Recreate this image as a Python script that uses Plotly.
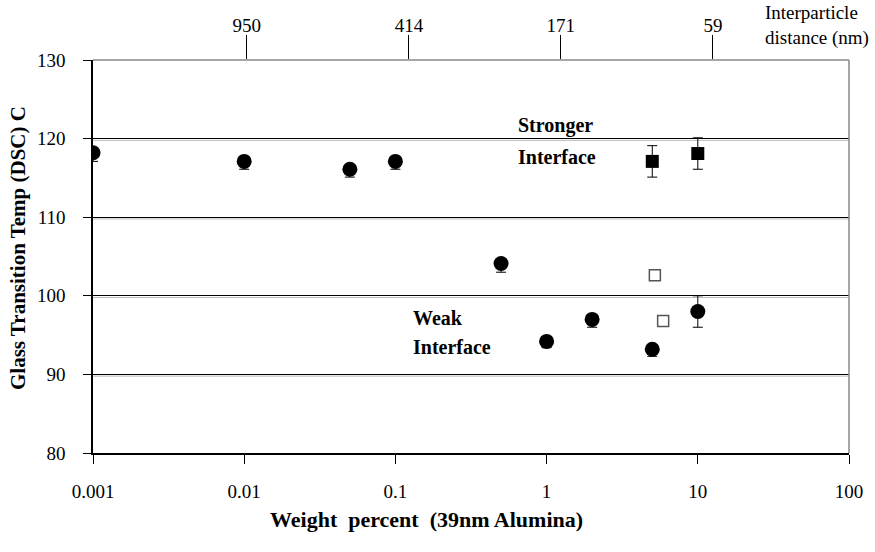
import math
import plotly.graph_objects as go

# Glass transition temperature vs. alumina loading
circ_wt = [0.001, 0.01, 0.05, 0.1, 0.5, 1, 2, 5, 10]
circ_tg = [118.2, 117.1, 116.1, 117.1, 104.1, 94.2, 97.0, 93.2, 98.0]
circ_err_plus = [0.5, 0.5, 0.5, 0.5, 0.5, 0.5, 0.5, 0.5, 2.0]
circ_err_minus = [1.1, 1.0, 1.0, 1.0, 1.1, 0.8, 1.0, 0.9, 2.0]

sq_wt = [5, 10]
sq_tg = [117.1, 118.1]
sq_err = [2.0, 2.0]

open_wt = [5.2, 5.9]
open_tg = [102.6, 96.8]

x_ticks = [0.001, 0.01, 0.1, 1, 10, 100]
x_ticklabels = ["0.001", "0.01", "0.1", "1", "10", "100"]
y_ticks = [80, 90, 100, 110, 120, 130]

# interparticle distance scale (top axis)
dist_pos = [0.0104, 0.123, 1.24, 12.6]
dist_labels = ["950", "414", "171", "59"]

# region labels: (text, weight percent, Tg)
region_labels = [
    ("Stronger", 0.63, 121.7),
    ("Interface", 0.63, 117.7),
    ("Weak", 0.127, 97.2),
    ("Interface", 0.127, 93.5),
]

FONT = "Liberation Serif"

fig = go.Figure()

fig.add_trace(go.Scatter(
    x=circ_wt, y=circ_tg, mode="markers",
    marker=dict(symbol="circle", size=15, color="black"),
    error_y=dict(type="data", symmetric=False, array=circ_err_plus,
                 arrayminus=circ_err_minus, color="black", thickness=1, width=5),
    showlegend=False,
))
fig.add_trace(go.Scatter(
    x=sq_wt, y=sq_tg, mode="markers",
    marker=dict(symbol="square", size=13, color="black"),
    error_y=dict(type="data", array=sq_err, color="black", thickness=1, width=5),
    showlegend=False,
))
fig.add_trace(go.Scatter(
    x=open_wt, y=open_tg, mode="markers",
    marker=dict(symbol="square", size=11, color="white",
                line=dict(color="#555555", width=1.5)),
    showlegend=False,
))
# invisible trace to carry the top axis
fig.add_trace(go.Scatter(
    x=dist_pos, y=[None] * len(dist_pos), xaxis="x2", mode="markers",
    showlegend=False, hoverinfo="skip",
))

# subtle gray shadow under each inner gridline
for v in y_ticks[1:-1]:
    fig.add_shape(type="line", xref="paper", x0=0, x1=1, yref="y",
                  y0=v - 0.22, y1=v - 0.22,
                  line=dict(color="#bbbbbb", width=1), layer="below")
# gray top and right border of the plot area
fig.add_shape(type="line", xref="paper", yref="paper", x0=0, x1=1, y0=1, y1=1,
              line=dict(color="#888888", width=1.5))
fig.add_shape(type="line", xref="paper", yref="paper", x0=1, x1=1, y0=0, y1=1,
              line=dict(color="#888888", width=1.5))

for txt, xv, yv in region_labels:
    fig.add_annotation(x=math.log10(xv), y=yv, text=f"<b>{txt}</b>",
                       showarrow=False, xanchor="left", yanchor="middle",
                       font=dict(family=FONT, size=20, color="black"))

fig.add_annotation(xref="paper", yref="paper", x=1.0, y=1.0, yshift=35,
                   xshift=-86,
                   text="Interparticle<br>distance (nm)", showarrow=False,
                   xanchor="left", yanchor="middle", align="left",
                   font=dict(family=FONT, size=19, color="black"))

# axis titles
fig.add_annotation(xref="paper", yref="paper", x=0.4417, y=0, yshift=-66,
                   text="<b>Weight  percent  (39nm Alumina)</b>", showarrow=False,
                   xanchor="center", yanchor="middle",
                   font=dict(family=FONT, size=22, color="black"))
fig.add_annotation(xref="paper", yref="paper", x=0, xshift=-75, y=0.5216,
                   text="<b>Glass Transition Temp (DSC) C</b>", showarrow=False,
                   textangle=-90, xanchor="center", yanchor="middle",
                   font=dict(family=FONT, size=21, color="black"))

fig.update_layout(
    width=875, height=552,
    margin=dict(l=93, r=19, t=60, b=99),
    paper_bgcolor="white", plot_bgcolor="white",
    font=dict(family=FONT, size=19, color="black"),
    xaxis=dict(
        type="log", range=[-3, 2],
        tickvals=x_ticks, ticktext=x_ticklabels,
        ticks="outside", ticklen=9, tickcolor="black", tickwidth=1,
        ticklabelstandoff=11,
        showline=True, linecolor="black", linewidth=1.5,
        showgrid=False, zeroline=False,
    ),
    xaxis2=dict(
        type="log", range=[-3, 2], overlaying="x", side="top",
        tickvals=dist_pos, ticktext=dist_labels,
        ticks="outside", ticklen=24, tickcolor="black", tickwidth=1,
        showline=False, showgrid=False, zeroline=False,
        ticklabelstandoff=-5,
    ),
    yaxis=dict(
        range=[80, 130], tickvals=y_ticks,
        ticks="outside", ticklen=8, tickcolor="black", tickwidth=1,
        ticklabelstandoff=14,
        showline=True, linecolor="black", linewidth=1.5,
        showgrid=True, gridcolor="black", gridwidth=1,
        zeroline=False,
    ),
)

fig.write_html("out.html")
